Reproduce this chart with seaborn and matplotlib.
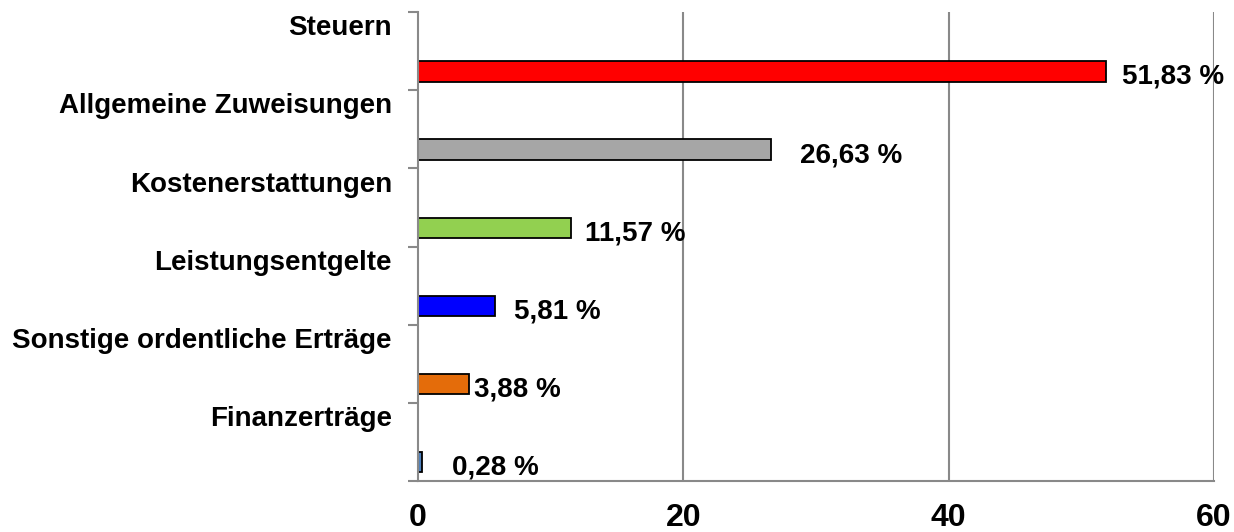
import numpy as np
import pandas as pd
import matplotlib
matplotlib.use("Agg")
import matplotlib.pyplot as plt
import seaborn as sns

# Ertragsanteile in Prozent
categories = [
    "Steuern",
    "Allgemeine Zuweisungen",
    "Kostenerstattungen",
    "Leistungsentgelte",
    "Sonstige ordentliche Erträge",
    "Finanzerträge",
]
shares = [51.83, 26.63, 11.57, 5.81, 3.88, 0.28]
bar_colors = ["#FF0000", "#A6A6A6", "#92D050", "#0000FF", "#E46C0A", "#4F81BD"]
x_ticks = [0, 20, 40, 60]

# label gaps between bar end and value text (points)
label_gaps = [11.5, 21, 9.5, 13.5, 3, 22]

sns.set_style("white")
plt.rcParams["font.family"] = ["Liberation Sans", "DejaVu Sans"]
plt.rcParams["font.weight"] = "bold"
plt.rcParams["text.color"] = "black"
plt.rcParams["xtick.labelcolor"] = "black"
plt.rcParams["ytick.labelcolor"] = "black"

df = pd.DataFrame({"Kategorie": categories, "Anteil": shares})

fig = plt.figure(figsize=(12.34, 5.32), dpi=100)
ax = fig.add_axes([418 / 1234, 1 - 481 / 532, (1214 - 418) / 1234, (481 - 12) / 532])

sns.barplot(
    data=df, x="Anteil", y="Kategorie", hue="Kategorie",
    palette=bar_colors, legend=False, dodge=False, orient="h",
    saturation=1, width=0.26, edgecolor="black", linewidth=1.3, ax=ax,
)

# each bar sits in the lower part of its band; the band label sits above it
shift = 0.26
n = len(categories)
idx = np.arange(n)
bounds = np.arange(n + 1) - 0.5 - shift

ax.set_xlim(x_ticks[0], x_ticks[-1])
ax.set_ylim(bounds[-1], bounds[0])

grid_col = "#898989"
ax.set_xticks(x_ticks)
ax.set_xticklabels([str(t) for t in x_ticks], fontsize=23, fontweight="bold")
ax.tick_params(axis="x", length=7, width=1.5, color=grid_col, pad=8.5)
for t in ax.xaxis.get_major_ticks()[1:]:
    t.tick1line.set_visible(False)

ax.set_yticks(idx - shift - 0.33)
ax.set_yticklabels(categories, fontsize=20, fontweight="bold")
ax.set_yticks(bounds, minor=True)
ax.tick_params(axis="y", which="major", length=0, pad=26 * 0.72)
ax.tick_params(axis="y", which="minor", length=7, width=1.5, color=grid_col, left=True)

ax.set_xlabel("")
ax.set_ylabel("")

for xv in x_ticks[1:]:
    ax.axvline(xv, color=grid_col, lw=1.5, zorder=0)

for side in ("top", "right"):
    ax.spines[side].set_visible(False)
for side in ("left", "bottom"):
    ax.spines[side].set_color(grid_col)
    ax.spines[side].set_linewidth(1.5)

for cont, val, gap in zip(ax.containers, shares, label_gaps):
    texts = ax.bar_label(
        cont, labels=[f"{val:.2f}".replace(".", ",") + " %"],
        padding=gap, fontsize=20, fontweight="bold", color="black",
    )
    for t in texts:
        t.set_va("center")
        t.xyann = (gap, -4)
        t.set_clip_on(False)

fig.savefig("out.png", dpi=100)
